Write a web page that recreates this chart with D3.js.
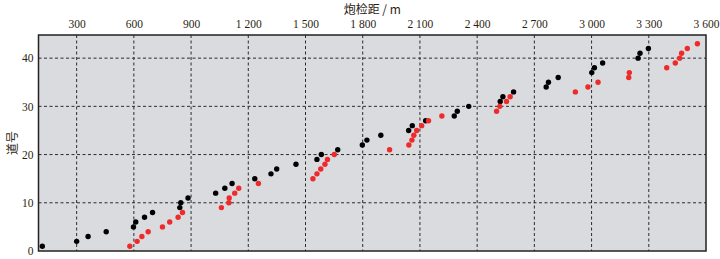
<!DOCTYPE html>
<html>
<head>
<meta charset="utf-8">
<script src="https://cdn.jsdelivr.net/npm/d3@7/dist/d3.min.js"></script>
<style>
  body { margin: 0; background: #fff; }
  text { font-family: "Liberation Serif", "Times New Roman", serif; fill: #2a1e14; }
  .cjk { font-family: "Noto Sans CJK SC", sans-serif; }
</style>
</head>
<body>
<script>
// valori
var xTicks = [300, 600, 900, 1200, 1500, 1800, 2100, 2400, 2700, 3000, 3300, 3600];
var yTicks = [0, 10, 20, 30, 40];

// punti neri: offset (m) e numero di traccia
var blackX = [120, 300, 360, 455, 598, 610, 656, 698, 841, 846, 884, 1029, 1077, 1115, 1234,
  1319, 1349, 1450, 1560, 1583, 1669, 1798, 1822, 1895, 2041, 2060, 2130, 2280, 2296, 2356,
  2521, 2535, 2591, 2762, 2774, 2825, 3001, 3015, 3058, 3244, 3254, 3298];
var blackY = [1, 2, 3, 4, 5, 6, 7, 8, 9, 10, 11, 12, 13, 14, 15, 16, 17, 18, 19, 20, 21,
  22, 23, 24, 25, 26, 27, 28, 29, 30, 31, 32, 33, 34, 35, 36, 37, 38, 39, 40, 41, 42];

// punti rossi
var redX = [579, 617, 642, 675, 750, 788, 832, 855, 1059, 1098, 1100, 1129, 1150, 1253,
  1539, 1560, 1580, 1602, 1615, 1651, 1941, 2042, 2058, 2068, 2083, 2109, 2145, 2215,
  2502, 2519, 2554, 2573, 2915, 2981, 3034, 3195, 3198, 3394, 3439, 3462, 3472, 3502, 3555];
var redY = [1, 2, 3, 4, 5, 6, 7, 8, 9, 10, 11, 12, 13, 14, 15, 16, 17, 18, 19, 20, 21,
  22, 23, 24, 25, 26, 27, 28, 29, 30, 31, 32, 33, 34, 35, 36, 37, 38, 39, 40, 41, 42, 43];

var w = 720;
var h = 259;
// margini dell'area del grafico (niente "top": è già window.top)
var pLeft = 38.5, pRight = 706, pTop = 35, pBottom = 251;

var svg = d3.select("body").append("svg")
  .attr("width", w)
  .attr("height", h);

var xScale = d3.scaleLinear().domain([100, 3600]).range([pLeft, pRight]);
var yScale = d3.scaleLinear().domain([0, 44.8]).range([pBottom, pTop]);

// sfondo grigio
svg.append("rect")
  .attr("x", pLeft).attr("y", pTop)
  .attr("width", pRight - pLeft).attr("height", pBottom - pTop)
  .attr("fill", "#d9dbdf");

// griglia tratteggiata
svg.selectAll(".vgrid")
  .data(xTicks.filter(function(d) { return d < 3600; }))
  .enter().append("line")
  .attr("x1", function(d) { return xScale(d); })
  .attr("x2", function(d) { return xScale(d); })
  .attr("y1", pTop).attr("y2", pBottom)
  .attr("stroke", "#2b2b2b").attr("stroke-width", 1)
  .attr("stroke-dasharray", "3,2.5");

svg.selectAll(".hgrid")
  .data(yTicks.filter(function(d) { return d > 0; }))
  .enter().append("line")
  .attr("x1", pLeft).attr("x2", pRight)
  .attr("y1", function(d) { return yScale(d); })
  .attr("y2", function(d) { return yScale(d); })
  .attr("stroke", "#2b2b2b").attr("stroke-width", 1)
  .attr("stroke-dasharray", "3,2.5");

// punti
var black = blackX.map(function(x, i) { return [x, blackY[i]]; });
var red = redX.map(function(x, i) { return [x, redY[i]]; });

svg.selectAll(".black")
  .data(black)
  .enter().append("circle")
  .attr("cx", function(d) { return xScale(d[0]); })
  .attr("cy", function(d) { return yScale(d[1]); })
  .attr("r", 2.7)
  .attr("fill", "#000");

svg.selectAll(".red")
  .data(red)
  .enter().append("circle")
  .attr("cx", function(d) { return xScale(d[0]); })
  .attr("cy", function(d) { return yScale(d[1]); })
  .attr("r", 2.7)
  .attr("fill", "#ee2a2a");

// bordo
svg.append("rect")
  .attr("x", pLeft).attr("y", pTop)
  .attr("width", pRight - pLeft).attr("height", pBottom - pTop)
  .attr("fill", "none")
  .attr("stroke", "#222").attr("stroke-width", 1.5);

// asse x in alto, migliaia separate da uno spazio
var fmt = function(d) { return d3.format(",")(d).replace(",", " "); };
var xAxis = d3.axisTop(xScale).tickValues(xTicks).tickSize(0).tickPadding(7).tickFormat(fmt);
var gx = svg.append("g")
  .attr("transform", "translate(0," + pTop + ")")
  .call(xAxis);
gx.select(".domain").remove();
gx.selectAll("text").attr("font-size", 11.5).attr("font-family", "Liberation Serif").attr("fill", "#2a1e14");

// asse y
var yAxis = d3.axisLeft(yScale).tickValues(yTicks).tickSize(0).tickPadding(5);
var gy = svg.append("g")
  .attr("transform", "translate(" + pLeft + ",0)")
  .call(yAxis);
gy.select(".domain").remove();
gy.selectAll("text").attr("font-size", 11.5).attr("font-family", "Liberation Serif").attr("fill", "#2a1e14");

// titoli
svg.append("text")
  .attr("x", (pLeft + pRight) / 2).attr("y", 14)
  .attr("text-anchor", "middle")
  .attr("font-size", 12)
  .attr("class", "cjk")
  .text("炮检距 / m");

svg.append("text")
  .attr("transform", "translate(17," + ((pTop + pBottom) / 2) + ") rotate(-90)")
  .attr("text-anchor", "middle")
  .attr("font-size", 12)
  .attr("class", "cjk")
  .text("道号");
</script>
</body>
</html>
